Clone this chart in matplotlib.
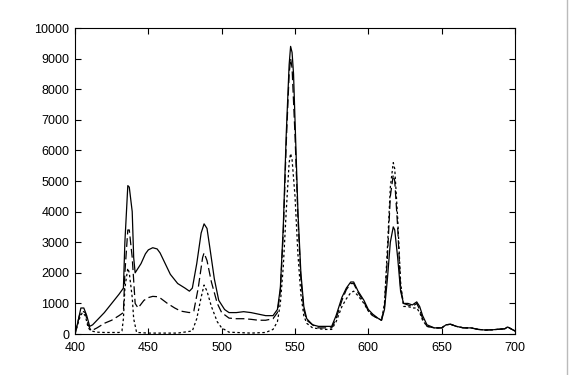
import numpy as np
import matplotlib
matplotlib.use('Agg')
import matplotlib.pyplot as plt

# solid line
x_solid = [400, 402, 404, 406, 408, 410, 412, 420, 430, 433, 434, 436, 437, 439, 440, 441,
           445, 448, 450, 453, 456, 458, 460, 465, 470, 475, 478, 480, 483, 486, 488, 490, 492, 495,
           498, 502, 505, 510, 515, 520, 525, 530, 535, 538, 540, 542, 544, 546, 547, 548,
           549, 550, 552, 554, 556, 558, 562, 566, 572, 575, 578, 582, 585, 588, 590, 593,
           597, 600, 603, 607, 609, 611, 613, 615, 617, 618, 620, 622, 624, 627, 630, 633,
           635, 637, 640, 645, 650, 653, 656, 660, 665, 670, 675, 680, 685, 690, 693, 695,
           698, 700]
y_solid = [0, 400, 850, 850, 600, 250, 300, 700, 1300, 1500, 3000, 4850, 4800, 4000, 2500, 2000,
           2300, 2620, 2750, 2820, 2780, 2650, 2450, 1950, 1650, 1500, 1400, 1500, 2300, 3300, 3600, 3450, 2800, 1800,
           1100, 800, 700, 700, 730, 700, 650, 600, 600, 800, 1500, 3500, 6500, 8800, 9400, 9200,
           8500, 7000, 4000, 2000, 900, 500, 300, 250, 250, 250, 600, 1200, 1500, 1700, 1700, 1400,
           1100, 800, 650, 500, 450, 800, 1800, 3000, 3500, 3400, 2500, 1400, 1000, 1000, 950, 1050,
           900, 600, 300, 200, 200, 300, 320, 250, 200, 200, 150, 130, 140, 160, 170, 230,
           150, 100]

# dashed line
x_dash = [400, 403, 405, 407, 409, 411, 415, 420, 425, 430, 433, 434, 436, 437, 439, 441,
          443, 447, 450, 453, 456, 458, 463, 468, 472, 478, 481, 484, 487, 488, 490, 493, 497, 500,
          505, 510, 515, 520, 525, 530, 535, 538, 540, 542, 544, 546, 547, 548, 550, 552,
          554, 556, 558, 562, 566, 572, 575, 578, 582, 585, 588, 590, 593, 597, 600, 603,
          607, 609, 611, 613, 615, 617, 618, 620, 622, 624, 627, 630, 633, 635, 637, 640,
          645, 650, 653, 656, 660, 665, 670, 675, 680, 685, 690, 693, 695, 698, 700]
y_dash = [0, 600, 750, 700, 300, 100, 200, 350, 450, 600, 700, 2000, 3400, 3400, 2500, 1000,
          850, 1100, 1190, 1230, 1220, 1180, 1000, 850, 750, 700, 750, 1500, 2500, 2650, 2400, 1700, 1000, 700,
          520, 500, 500, 480, 450, 450, 500, 700, 1400, 3300, 6200, 8500, 9000, 8700, 6500, 3800,
          1800, 800, 450, 300, 200, 200, 200, 500, 1100, 1450, 1650, 1650, 1350, 1050, 750, 600,
          500, 450, 900, 2500, 4500, 5200, 5000, 3500, 1500, 1000, 950, 900, 1000, 800, 500, 250,
          200, 200, 300, 320, 250, 200, 200, 150, 130, 140, 160, 170, 230, 150, 100]

# dotted line
x_dot = [400, 403, 405, 407, 409, 411, 415, 420, 430, 432, 433, 434, 436, 437, 439, 440,
         442, 450, 470, 480, 483, 486, 488, 490, 493, 497, 500, 505, 520, 530, 535, 538,
         540, 542, 544, 546, 547, 548, 550, 552, 554, 556, 558, 562, 570, 575, 578, 582,
         585, 588, 590, 593, 597, 600, 603, 607, 609, 611, 613, 615, 617, 618, 620, 622,
         624, 627, 630, 633, 635, 637, 640, 645, 650, 653, 656, 660, 665, 670, 675, 680,
         685, 690, 693, 695, 698, 700]
y_dot = [0, 500, 700, 600, 200, 100, 60, 50, 50, 100, 500, 1500, 2150, 2000, 1200, 500,
         50, 30, 30, 100, 500, 1200, 1600, 1400, 900, 400, 200, 60, 30, 50, 150, 400,
         1000, 2200, 4000, 5600, 5900, 5700, 4500, 2600, 1300, 600, 350, 200, 150, 150, 400, 900,
         1150, 1350, 1400, 1250, 1000, 750, 600, 500, 450, 1000, 2800, 4800, 5600, 5400, 3800, 1700,
         900, 900, 850, 850, 700, 450, 250, 200, 200, 300, 320, 250, 200, 200, 150, 130,
         140, 160, 170, 230, 150, 100]

plt.rcParams['font.family'] = ['Liberation Sans', 'DejaVu Sans']

fig = plt.figure(figsize=(5.7, 3.75), dpi=100)
ax = fig.add_axes([0.1316, 0.1093, 0.7719, 0.816])

ax.plot(x_solid, y_solid, color='black', lw=0.9, linestyle='-')
ax.plot(x_dash, y_dash, color='black', lw=0.9, linestyle=(0, (7, 3)))
ax.plot(x_dot, y_dot, color='black', lw=0.9, linestyle=(0, (2, 2)))

ax.set_xlim(400, 700)
ax.set_ylim(0, 10000)
ax.set_xticks(np.arange(400, 701, 50))
ax.set_yticks(np.arange(0, 10001, 1000))
ax.tick_params(direction='in', top=True, right=True, length=4, width=0.8,
               labelsize=9, colors='black')
ax.tick_params(axis='x', pad=6)
ax.tick_params(axis='y', pad=4)
for s in ax.spines.values():
    s.set_linewidth(0.8)

# thin frame edge on the right of the picture
fig.add_artist(plt.Line2D([0.995, 0.995], [0, 1], color='#bbbbbb', lw=1))

fig.savefig('out.png', dpi=100)
